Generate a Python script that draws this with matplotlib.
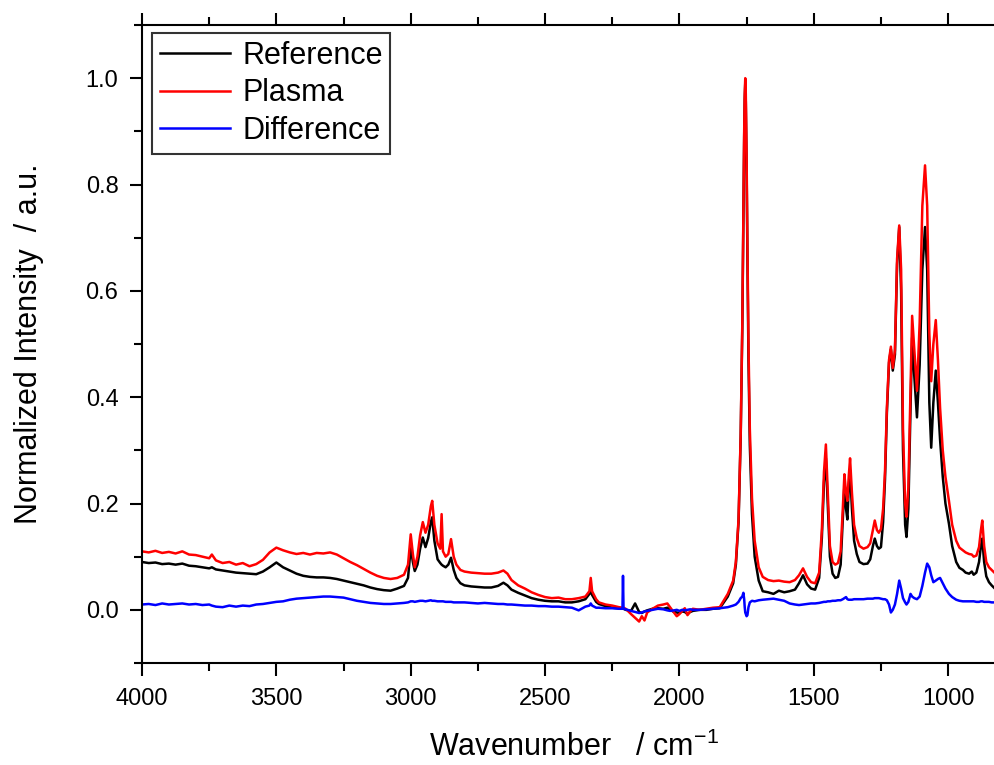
import numpy as np
import matplotlib
matplotlib.use('Agg')
import matplotlib.pyplot as plt
from matplotlib.ticker import MultipleLocator, FormatStrFormatter

plt.rcParams['font.family'] = ['Liberation Sans', 'DejaVu Sans']
plt.rcParams['mathtext.default'] = 'regular'

# wavenumber grid, cm-1
wavenumber = [
    4000, 3975, 3950, 3925, 3900, 3875, 3850, 3825, 3800, 3775, 3750, 3740, 3725, 3700, 3675,
    3650, 3625, 3600, 3575, 3550, 3525, 3500, 3475, 3450, 3425, 3400, 3375, 3350, 3325, 3300,
    3275, 3250, 3225, 3200, 3175, 3150, 3125, 3100, 3075, 3050, 3025, 3010, 3000, 2992, 2985,
    2975, 2965, 2955, 2945, 2935, 2925, 2920, 2912, 2900, 2890, 2885, 2880, 2870, 2860, 2850,
    2840, 2830, 2815, 2800, 2775, 2750, 2725, 2700, 2675, 2655, 2640, 2625, 2600, 2575, 2550,
    2525, 2500, 2475, 2450, 2425, 2400, 2375, 2350, 2335, 2330, 2325, 2310, 2300, 2275, 2250,
    2225, 2212, 2210, 2208, 2200, 2180, 2165, 2150, 2140, 2130, 2120, 2100, 2080, 2060, 2045,
    2035, 2020, 2010, 2000, 1990, 1980, 1970, 1960, 1950, 1925, 1900, 1875, 1850, 1820, 1800,
    1790, 1780, 1772, 1766, 1762, 1759, 1757, 1755, 1753, 1750, 1747, 1743, 1738, 1730, 1720,
    1705, 1690, 1670, 1650, 1630, 1610, 1590, 1570, 1555, 1540, 1525, 1510, 1495, 1480, 1470,
    1462, 1455, 1448, 1440, 1430, 1420, 1410, 1400, 1392, 1386, 1380, 1375, 1370, 1365, 1358,
    1350, 1340, 1330, 1315, 1300, 1290, 1280, 1273, 1265, 1258, 1250, 1242, 1235, 1228, 1220,
    1213, 1206, 1198, 1190, 1182, 1175, 1168, 1160, 1155, 1148, 1140, 1134, 1126, 1116, 1106,
    1096, 1086, 1078, 1070, 1063, 1055, 1046, 1038, 1030, 1020, 1010, 997, 985, 970, 958,
    945, 935, 922, 912, 905, 895, 885, 878, 873, 866, 858, 848, 838, 828,
]

reference = [
    0.090, 0.088, 0.089, 0.086, 0.087, 0.085, 0.087, 0.083, 0.082, 0.080, 0.078, 0.080, 0.076, 0.074, 0.072,
    0.070, 0.069, 0.068, 0.067, 0.072, 0.080, 0.089, 0.080, 0.074, 0.068, 0.064, 0.062, 0.061, 0.061, 0.060,
    0.058, 0.055, 0.052, 0.049, 0.046, 0.042, 0.039, 0.037, 0.036, 0.040, 0.045, 0.060, 0.117, 0.090, 0.073,
    0.085, 0.115, 0.136, 0.118, 0.135, 0.165, 0.174, 0.130, 0.095, 0.088, 0.085, 0.083, 0.080, 0.085, 0.098,
    0.075, 0.060, 0.050, 0.046, 0.044, 0.043, 0.042, 0.042, 0.045, 0.051, 0.046, 0.038, 0.032, 0.027, 0.022,
    0.019, 0.017, 0.016, 0.016, 0.014, 0.014, 0.016, 0.020, 0.030, 0.036, 0.028, 0.015, 0.011, 0.007, 0.004,
    0.003, 0.002, 0.002, 0.002, 0.000, -0.002, 0.012, -0.004, -0.006, -0.003, -0.001, 0.002, 0.003, 0.002, 0.004,
    0.000, -0.004, -0.005, -0.006, -0.003, -0.004, -0.008, -0.004, -0.002, 0.000, 0.000, 0.002, 0.003, 0.025, 0.050,
    0.085, 0.165, 0.325, 0.530, 0.740, 0.890, 0.960, 0.990, 0.955, 0.830, 0.665, 0.470, 0.310, 0.180, 0.100,
    0.055, 0.035, 0.033, 0.030, 0.036, 0.033, 0.035, 0.038, 0.050, 0.065, 0.048, 0.040, 0.038, 0.060, 0.135,
    0.240, 0.285, 0.200, 0.100, 0.068, 0.060, 0.062, 0.085, 0.170, 0.235, 0.190, 0.170, 0.230, 0.262, 0.190,
    0.130, 0.105, 0.090, 0.086, 0.087, 0.095, 0.120, 0.134, 0.120, 0.115, 0.118, 0.165, 0.245, 0.370, 0.465,
    0.490, 0.450, 0.480, 0.650, 0.720, 0.600, 0.300, 0.160, 0.137, 0.190, 0.380, 0.512, 0.440, 0.362, 0.460,
    0.640, 0.720, 0.640, 0.390, 0.305, 0.390, 0.450, 0.390, 0.320, 0.250, 0.200, 0.162, 0.120, 0.090, 0.079,
    0.075, 0.070, 0.068, 0.072, 0.066, 0.070, 0.090, 0.120, 0.134, 0.090, 0.063, 0.052, 0.046, 0.041,
]

plasma = [
    0.110, 0.108, 0.111, 0.107, 0.109, 0.106, 0.110, 0.104, 0.103, 0.100, 0.097, 0.104, 0.093, 0.088, 0.090,
    0.085, 0.088, 0.082, 0.086, 0.094, 0.108, 0.117, 0.112, 0.108, 0.105, 0.107, 0.104, 0.107, 0.106, 0.108,
    0.104, 0.097, 0.090, 0.084, 0.077, 0.070, 0.064, 0.060, 0.058, 0.060, 0.066, 0.085, 0.142, 0.105, 0.080,
    0.100, 0.140, 0.165, 0.145, 0.160, 0.195, 0.205, 0.160, 0.125, 0.115, 0.180, 0.110, 0.100, 0.105, 0.133,
    0.100, 0.085, 0.075, 0.072, 0.070, 0.069, 0.068, 0.068, 0.070, 0.074, 0.068, 0.056, 0.046, 0.040, 0.033,
    0.028, 0.024, 0.022, 0.023, 0.020, 0.020, 0.022, 0.025, 0.035, 0.060, 0.035, 0.020, 0.014, 0.010, 0.008,
    0.005, 0.004, 0.004, 0.004, 0.002, -0.008, -0.015, -0.022, -0.012, -0.020, -0.005, 0.002, 0.008, 0.010, 0.012,
    0.005, -0.005, -0.012, -0.008, -0.002, 0.003, -0.010, -0.003, 0.002, 0.000, 0.002, 0.004, 0.005, 0.030, 0.055,
    0.090, 0.170, 0.330, 0.540, 0.750, 0.900, 0.970, 1.000, 0.970, 0.850, 0.690, 0.500, 0.340, 0.210, 0.130,
    0.080, 0.062, 0.056, 0.054, 0.055, 0.053, 0.052, 0.056, 0.065, 0.078, 0.062, 0.052, 0.050, 0.070, 0.150,
    0.260, 0.311, 0.220, 0.120, 0.090, 0.085, 0.088, 0.110, 0.190, 0.255, 0.220, 0.205, 0.250, 0.285, 0.220,
    0.160, 0.135, 0.120, 0.115, 0.118, 0.125, 0.150, 0.168, 0.150, 0.145, 0.152, 0.190, 0.260, 0.380, 0.470,
    0.495, 0.455, 0.488, 0.660, 0.723, 0.640, 0.340, 0.200, 0.175, 0.230, 0.420, 0.553, 0.490, 0.412, 0.540,
    0.760, 0.836, 0.760, 0.520, 0.430, 0.500, 0.545, 0.470, 0.380, 0.300, 0.250, 0.205, 0.160, 0.130, 0.117,
    0.112, 0.108, 0.105, 0.104, 0.100, 0.102, 0.118, 0.150, 0.168, 0.120, 0.090, 0.080, 0.075, 0.070,
]

difference = [
    0.010, 0.011, 0.009, 0.012, 0.010, 0.011, 0.012, 0.010, 0.011, 0.009, 0.010, 0.008, 0.006, 0.005, 0.008,
    0.006, 0.008, 0.007, 0.010, 0.011, 0.013, 0.015, 0.016, 0.019, 0.021, 0.022, 0.023, 0.024, 0.025, 0.025,
    0.024, 0.023, 0.020, 0.017, 0.015, 0.013, 0.012, 0.011, 0.011, 0.012, 0.013, 0.014, 0.016, 0.016, 0.015,
    0.016, 0.017, 0.017, 0.016, 0.017, 0.018, 0.017, 0.017, 0.016, 0.016, 0.016, 0.016, 0.015, 0.015, 0.015,
    0.014, 0.014, 0.014, 0.014, 0.013, 0.012, 0.013, 0.012, 0.011, 0.011, 0.010, 0.010, 0.009, 0.008, 0.008,
    0.007, 0.007, 0.006, 0.006, 0.005, 0.004, -0.001, 0.006, 0.008, 0.012, 0.008, 0.004, 0.004, 0.003, 0.003,
    0.002, 0.002, 0.064, 0.002, 0.001, -0.002, -0.004, -0.006, -0.005, -0.003, -0.002, 0.000, 0.002, 0.001, -0.001,
    -0.002, -0.001, 0.000, -0.002, 0.000, -0.001, 0.000, 0.001, 0.000, 0.000, 0.001, 0.002, 0.003, 0.005, 0.008,
    0.010, 0.015, 0.022, 0.025, 0.032, 0.020, 0.005, -0.005, -0.008, -0.012, -0.010, 0.005, 0.014, 0.017, 0.016,
    0.018, 0.019, 0.020, 0.021, 0.019, 0.017, 0.012, 0.010, 0.009, 0.010, 0.011, 0.012, 0.012, 0.013, 0.014,
    0.015, 0.015, 0.016, 0.016, 0.017, 0.017, 0.018, 0.018, 0.020, 0.022, 0.024, 0.020, 0.019, 0.019, 0.019,
    0.020, 0.020, 0.020, 0.020, 0.021, 0.021, 0.021, 0.022, 0.022, 0.022, 0.021, 0.020, 0.020, 0.018, 0.010,
    -0.005, 0.000, 0.010, 0.030, 0.055, 0.040, 0.022, 0.014, 0.010, 0.015, 0.030, 0.025, 0.022, 0.020, 0.025,
    0.045, 0.070, 0.087, 0.080, 0.065, 0.052, 0.055, 0.058, 0.060, 0.050, 0.040, 0.030, 0.024, 0.019, 0.017,
    0.016, 0.016, 0.016, 0.016, 0.016, 0.015, 0.015, 0.016, 0.016, 0.015, 0.015, 0.015, 0.014, 0.014,
]

fig = plt.figure(figsize=(9.95, 7.65), dpi=100)
ax = fig.add_axes([142 / 995, 102 / 765, 858 / 995, 638 / 765])

ax.plot(wavenumber, reference, color='black', lw=1.8, label='Reference')
ax.plot(wavenumber, plasma, color='#ff0000', lw=1.8, label='Plasma')
ax.plot(wavenumber, difference, color='#0000ff', lw=1.8, label='Difference')

ax.set_xlim(4000, 807)
ax.set_ylim(-0.1, 1.1)

ax.xaxis.set_major_locator(MultipleLocator(500))
ax.xaxis.set_minor_locator(MultipleLocator(250))
ax.yaxis.set_major_locator(MultipleLocator(0.2))
ax.yaxis.set_minor_locator(MultipleLocator(0.1))
ax.yaxis.set_major_formatter(FormatStrFormatter('%.1f'))

ax.tick_params(which='both', direction='out', top=True, right=True, width=1.5, labelsize=17)
ax.tick_params(axis='x', pad=9)
ax.tick_params(axis='y', pad=8)
ax.tick_params(which='major', length=9)
ax.tick_params(which='minor', length=6)
for sp in ax.spines.values():
    sp.set_linewidth(1.5)

ax.set_xlabel('Wavenumber   / cm$^{-1}$', fontsize=22)
ax.set_ylabel('Normalized Intensity  / a.u.', fontsize=22)
ax.xaxis.set_label_coords(0.504, -0.108)
ax.yaxis.set_label_coords(-0.114, 0.5)

leg = ax.legend(loc='upper left', bbox_to_anchor=(10 / 853, 1 - 8 / 638), borderaxespad=0,
                fontsize=22, frameon=True, fancybox=False, framealpha=1, handlelength=2.3,
                labelspacing=0.25, borderpad=0.25, handletextpad=0.4)
leg.get_frame().set_edgecolor('#333333')
leg.get_frame().set_linewidth(1.5)

fig.savefig('out.png', dpi=100)
